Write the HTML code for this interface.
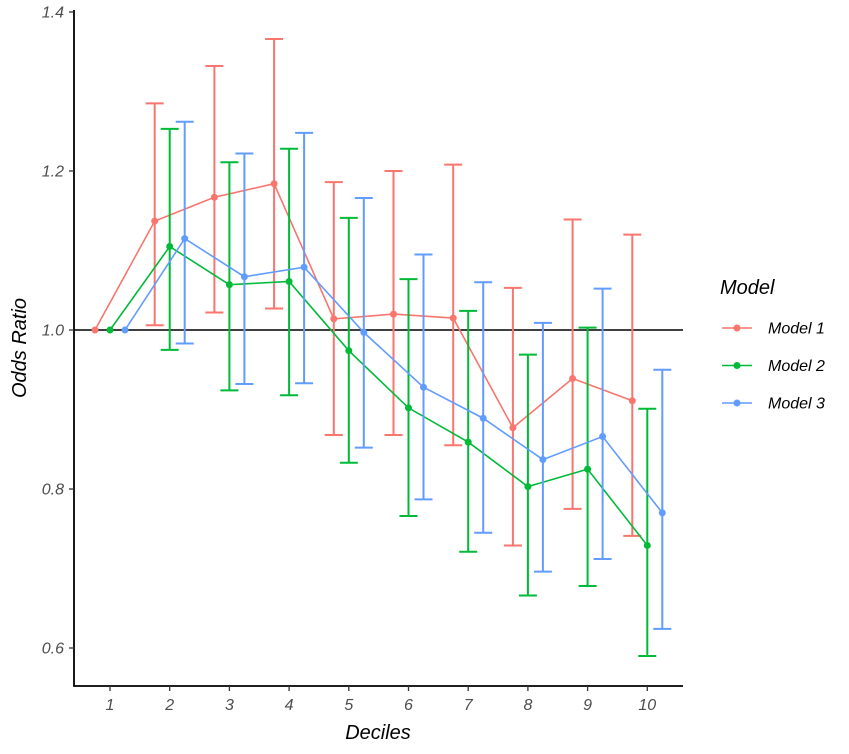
<!DOCTYPE html>
<html><head><meta charset="utf-8"><style>
body{margin:0;background:#fff;}
svg text{font-family:"Liberation Sans",sans-serif;font-style:italic;}
</style></head><body>
<svg id="chart" width="849" height="749" xmlns="http://www.w3.org/2000/svg">
<g id="plot"></g>
</svg>
<script>
const deciles = [1,2,3,4,5,6,7,8,9,10];
const model1 = [1.0,1.137,1.167,1.184,1.014,1.020,1.015,0.877,0.939,0.911];
const model1Lo = [1.0,1.006,1.022,1.027,0.868,0.868,0.855,0.729,0.775,0.741];
const model1Hi = [1.0,1.285,1.332,1.366,1.186,1.200,1.208,1.053,1.139,1.120];
const model2 = [1.0,1.105,1.057,1.061,0.974,0.902,0.859,0.803,0.825,0.729];
const model2Lo = [1.0,0.975,0.924,0.918,0.833,0.766,0.721,0.666,0.678,0.590];
const model2Hi = [1.0,1.253,1.211,1.228,1.141,1.064,1.024,0.969,1.003,0.901];
const model3 = [1.0,1.115,1.067,1.079,0.997,0.928,0.889,0.837,0.866,0.770];
const model3Lo = [1.0,0.983,0.932,0.933,0.852,0.787,0.745,0.696,0.712,0.624];
const model3Hi = [1.0,1.262,1.222,1.248,1.166,1.095,1.060,1.009,1.052,0.950];
const yTicks = [0.6,0.8,1.0,1.2,1.4];
const modelNames = ["Model 1","Model 2","Model 3"];

const NS="http://www.w3.org/2000/svg";
const svg=document.getElementById('plot');
const xS=d=>110+(d-1)*59.7;
const yS=v=>330-(v-1)*795;
function mk(tag,attrs,parent){const e=document.createElementNS(NS,tag);for(const k in attrs)e.setAttribute(k,attrs[k]);(parent||svg).appendChild(e);return e;}

let ref=mk('line',{x1:74,x2:683,y1:yS(1),y2:yS(1),stroke:'#000','stroke-width':1.6});



const series=[
 {v:model1,lo:model1Lo,hi:model1Hi,c:'#F8766D',off:-15},
 {v:model2,lo:model2Lo,hi:model2Hi,c:'#00BA38',off:0},
 {v:model3,lo:model3Lo,hi:model3Hi,c:'#619CFF',off:15}];
series.forEach((s,si)=>{
 const g=mk('g',{});
 
 
 deciles.forEach((d,i)=>{
  if(i===0)return;
  const x=xS(d)+s.off;
  const eb=mk('path',{d:`M${x-9},${yS(s.hi[i])}H${x+9}M${x},${yS(s.hi[i])}V${yS(s.lo[i])}M${x-9},${yS(s.lo[i])}H${x+9}`,stroke:s.c,'stroke-width':2,fill:'none'},g);
  
  
 });
 const pts=deciles.map((d,i)=>`${xS(d)+s.off},${yS(s.v[i])}`).join(' ');
 const ln=mk('polyline',{points:pts,stroke:s.c,'stroke-width':1.6,fill:'none'},g);
 
 
 deciles.forEach((d,i)=>{
  const p=mk('circle',{cx:xS(d)+s.off,cy:yS(s.v[i]),r:3.5,fill:s.c},g);
  
  
 });
});

let ax=mk('path',{d:'M74,10V686H683',stroke:'#000','stroke-width':1.8,fill:'none'});


yTicks.forEach(t=>{
 const y=yS(t);
 const tk=mk('line',{x1:69,x2:74,y1:y,y2:y,stroke:'#333','stroke-width':1.3});
 
 
 const tx=mk('text',{x:64,y:y+5.5,'text-anchor':'end','font-size':16,fill:'#4d4d4d'});
 tx.textContent=t.toFixed(1);
 
 
});
deciles.forEach(d=>{
 const x=xS(d);
 const tk=mk('line',{x1:x,x2:x,y1:686,y2:691,stroke:'#333','stroke-width':1.3});
 
 
 const tx=mk('text',{x:x,y:710,'text-anchor':'middle','font-size':16,fill:'#4d4d4d'});
 tx.textContent=d;
 
 
});
let xt=mk('text',{x:378,y:739,'text-anchor':'middle','font-size':20,fill:'#000'});
xt.textContent='Deciles';


let yt=mk('text',{x:0,y:0,'text-anchor':'middle','font-size':20,fill:'#000',transform:'translate(26,348) rotate(-90)'});
yt.textContent='Odds Ratio';



const lg=mk('g',{});


let lt=mk('text',{x:720,y:294,'font-size':20,fill:'#000'},lg);
lt.textContent='Model';


modelNames.forEach((n,i)=>{
 const y=328+i*37.5;
 const e=mk('g',{},lg);
 
 
 mk('line',{x1:722,x2:752,y1:y,y2:y,stroke:series[i].c,'stroke-width':1.6},e);
 mk('circle',{cx:737,cy:y,r:3.5,fill:series[i].c},e);
 const t=mk('text',{x:768,y:y+5.5,'font-size':16,fill:'#000'},e);
 t.textContent=n;
});
</script>
</body></html>
